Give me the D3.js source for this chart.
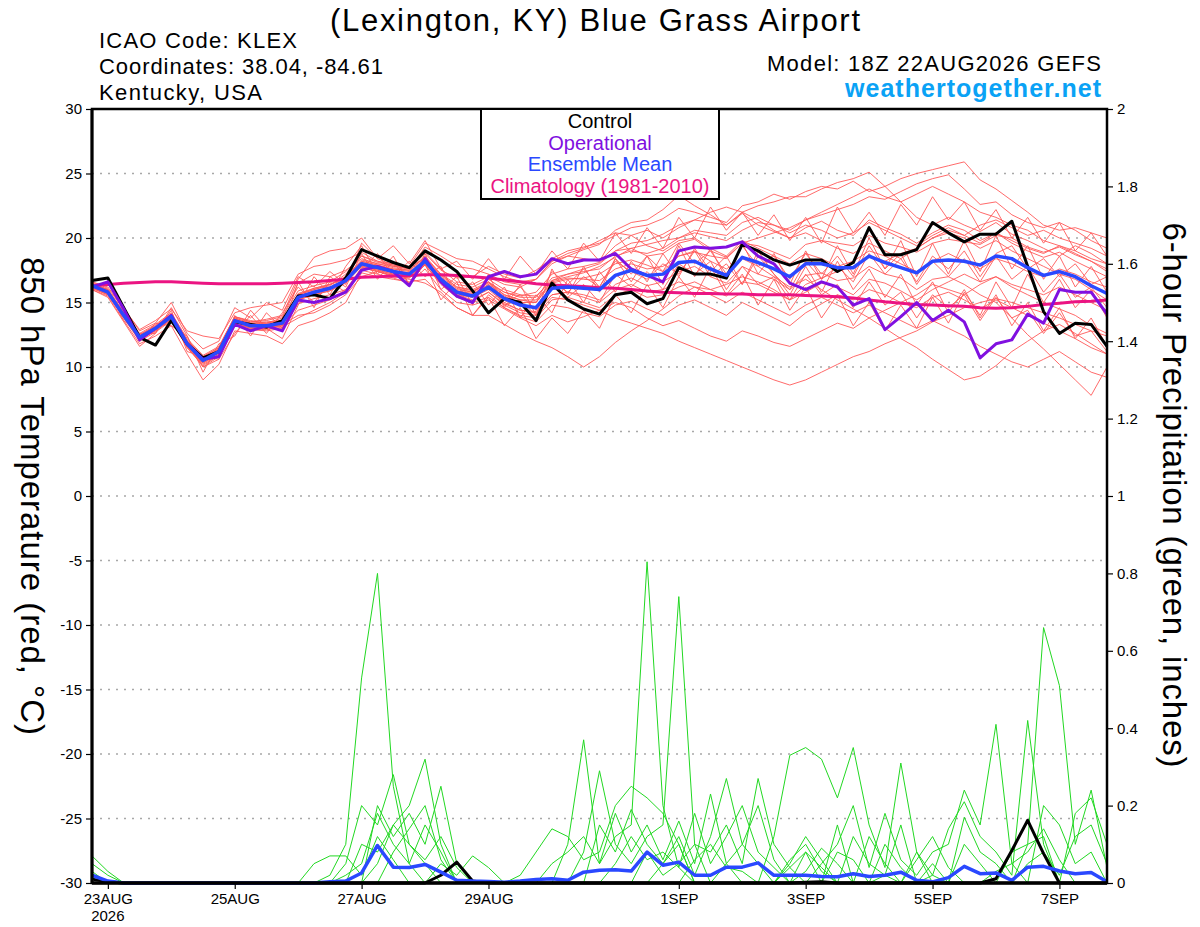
<!DOCTYPE html>
<html><head><meta charset="utf-8">
<script src="https://cdn.jsdelivr.net/npm/d3@7"></script>
<style>
html,body{margin:0;padding:0;background:#fff;}
svg{display:block;font-family:"Liberation Sans",Arial,Helvetica,sans-serif;}
</style></head><body>
<svg id="chart" width="1200" height="927"></svg>
<script>
// ---------------- DATA ----------------
const runStart = "2026-08-22T18:00:00Z";   // 18Z 22AUG2026, 6-hourly, 65 steps
const stepHours = 6;
const tickDates  = ["2026-08-23T00:00:00Z","2026-08-25T00:00:00Z","2026-08-27T00:00:00Z","2026-08-29T00:00:00Z","2026-09-01T00:00:00Z","2026-09-03T00:00:00Z","2026-09-05T00:00:00Z","2026-09-07T00:00:00Z"];
const tickLabels = ["23AUG","25AUG","27AUG","29AUG","1SEP","3SEP","5SEP","7SEP"];
const tempTicks   = [-30,-25,-20,-15,-10,-5,0,5,10,15,20,25,30];
const precipTicks = [0,0.2,0.4,0.6,0.8,1,1.2,1.4,1.6,1.8,2];
const legendLabels = ["Control","Operational","Ensemble Mean","Climatology (1981-2010)"];

const controlTemp = [16.7,16.9,14.6,12.3,11.7, 13.6,11.8,10.7,11.2,13.5, 13.3,13.1,13.6,15.5,15.6, 15.3,16.9,19.1,18.6,18.1, 17.7,19.0,18.3,17.4,15.9, 14.2,15.3,15.0,13.6,16.5, 15.2,14.5,14.1,15.6,15.8, 14.9,15.3,17.7,17.2,17.2, 16.9,19.5,19.0,18.3,17.9, 18.3,18.3,17.4,18.1,20.8, 18.7,18.7,19.1,21.2,20.4, 19.7,20.3,20.3,21.3,17.8, 14.3,12.6,13.4,13.3,11.6];
const operationalTemp = [16.2,16.6,14.5,12.1,13.0, 14.0,11.8,10.6,10.8,13.3, 12.8,13.2,12.8,15.2,15.0, 15.3,15.8,17.5,17.8,17.4, 16.3,18.4,16.6,15.5,15.0, 17.0,17.4,17.0,17.2,18.4, 18.0,18.3,18.3,18.8,17.6, 17.1,16.6,19.0,19.3,19.2, 19.3,19.7,18.6,18.0,16.5, 16.0,16.6,16.2,14.8,15.3, 12.9,13.9,15.0,13.6,14.4, 13.5,10.7,11.8,12.1,14.1, 13.4,16.0,15.8,15.8,14.1];
const meanTemp = [16.3,15.8,14.0,12.3,13.0, 13.9,11.8,10.5,11.2,13.6, 13.2,13.2,13.4,15.4,15.8, 16.1,16.7,18.0,17.7,17.4, 17.2,18.2,16.8,15.8,15.5, 16.2,15.3,14.8,14.6,16.1, 16.2,16.1,16.0,17.1,17.5, 17.1,17.2,18.1,18.2,17.6, 17.1,18.5,18.1,17.6,17.0, 18.0,18.0,17.7,17.7,18.6, 18.1,17.7,17.3,18.2,18.3, 18.2,17.9,18.6,18.4,17.7, 17.1,17.4,17.0,16.3,15.7];
const climoTemp = [16.3,16.4,16.5,16.55,16.6, 16.6,16.55,16.5,16.45,16.45, 16.45,16.45,16.5,16.55,16.6, 16.7,16.8,16.95,17.0,17.05, 17.1,17.15,17.15,17.1,17.0, 16.9,16.75,16.6,16.45,16.35, 16.3,16.25,16.15,16.1,16.0, 15.9,15.8,15.75,15.7,15.7, 15.65,15.65,15.6,15.6,15.6, 15.55,15.5,15.45,15.35,15.2, 15.05,14.95,14.85,14.8,14.75, 14.7,14.6,14.55,14.6,14.7, 14.85,14.95,15.05,15.1,15.2];

const memberTemps = [
 [16.4,15.9,14.2,12.5,13.2, 14.1,12.0,10.8,11.5,13.9, 13.5,13.6,13.9,15.9,16.3, 16.6,17.4,18.6,18.1,17.9, 17.6,18.8,17.5,16.9,17.0, 17.8,17.2,16.9,17.5,18.4, 19.0,19.3,19.6,20.2,20.8, 21.0,21.5,22.3,22.0,21.6, 21.2,22.5,22.8,23.4,23.0, 23.6,24.0,23.8,24.4,23.6, 24.0,24.6,25.0,25.3,25.6, 25.9,24.5,23.8,22.9,22.0, 21.0,20.6,20.8,20.4,20.0],
 [16.2,15.7,13.8,12.0,12.7, 13.6,11.5,10.2,10.9,13.2, 12.9,12.8,13.0,14.9,15.3, 15.6,16.0,17.5,17.2,16.9, 16.5,17.6,16.0,15.0,14.8, 15.2,14.5,13.8,13.2,14.0, 13.5,13.9,14.4,13.8,13.4, 13.0,12.6,12.0,11.5,11.0, 10.5,10.0,9.5,9.0,8.6, 9.0,9.6,10.2,10.8,11.2, 11.8,12.3,12.8,13.5,14.0, 14.6,15.0,15.3,15.0,14.6, 14.2,13.8,13.3,12.8,12.4],
 [16.1,15.6,13.9,12.2,12.8, 13.7,11.6,10.0,10.8,13.4, 13.0,13.1,13.3,14.0,14.2, 14.8,15.6,17.0,17.4,17.0, 16.8,16.5,15.8,14.6,14.0, 14.0,13.3,12.6,12.0,11.5, 10.8,10.0,10.8,11.9,12.8, 13.6,14.5,15.5,16.2,16.0, 16.4,17.0,16.6,16.0,15.2, 15.8,16.5,16.2,15.6,16.8, 16.5,15.9,15.2,16.0,16.6, 17.2,16.6,17.0,16.2,15.6, 15.0,14.5,14.0,13.2,12.6],
 [16.5,16.0,14.3,12.6,13.3, 14.2,12.2,10.9,11.6,13.9, 13.6,13.4,13.8,16.5,17.2, 17.0,17.5,18.4,18.0,17.8, 17.7,18.9,17.6,16.6,16.4, 17.0,16.4,16.2,16.8,18.0, 18.6,19.1,19.5,20.6,21.2, 21.4,22.2,23.3,22.5,21.8, 21.0,21.9,21.0,20.5,20.0, 20.8,21.3,20.6,20.2,21.4, 20.8,20.3,19.6,20.4,21.0, 20.6,19.8,20.4,19.6,19.0, 18.5,18.9,18.2,17.6,17.0],
 [16.3,15.8,14.1,12.4,13.1, 13.9,11.8,10.5,11.1,13.5, 13.1,13.2,13.3,15.3,15.7, 16.0,16.8,17.9,17.6,17.3, 17.2,18.1,16.6,15.6,15.4, 16.0,15.0,14.4,14.3,15.6, 15.8,15.6,15.2,16.4,16.9, 16.3,16.6,17.4,17.8,17.0, 16.5,17.8,17.2,16.8,16.0, 17.1,17.3,16.7,16.9,17.8, 17.2,16.9,16.0,16.8,17.0, 16.4,15.6,15.0,13.8,12.5, 11.4,10.2,9.0,7.8,10.0],
 [16.2,15.8,14.0,12.3,12.9, 13.8,11.7,10.4,11.3,13.7, 13.3,13.0,13.5,15.5,15.9, 16.2,16.6,17.8,17.5,17.2, 17.0,18.0,16.9,16.0,15.8, 16.6,15.6,15.2,15.0,16.5, 16.8,16.9,17.2,18.0,18.3, 17.9,17.4,18.6,19.0,18.2, 17.6,18.4,17.8,17.0,16.2, 16.8,16.0,15.2,14.5,13.8, 13.0,12.2,11.5,10.6,9.8, 9.0,9.3,10.1,11.2,12.0, 12.8,13.3,12.6,11.8,11.0],
 [16.4,15.9,14.0,12.3,13.0, 14.0,11.9,10.6,11.3,13.7, 13.3,13.3,13.6,15.6,16.1, 16.4,17.0,18.2,17.9,17.6, 17.5,18.5,17.1,16.2,15.9, 16.5,15.8,15.5,15.8,17.2, 17.6,17.8,18.1,19.0,19.2, 18.6,18.8,19.6,19.9,19.0, 18.5,19.6,19.4,18.9,18.4, 19.5,19.8,19.6,19.4,20.2, 19.6,19.3,18.9,19.6,19.9, 19.7,19.5,20.2,20.0,19.3, 18.9,19.3,18.7,18.2,17.6],
 [16.0,15.5,13.6,11.8,12.4, 13.2,11.0,9.0,10.2,12.8, 12.6,12.4,11.8,13.2,13.6, 14.2,15.0,17.3,17.0,16.8, 16.6,16.8,15.6,14.6,14.0, 15.6,14.6,14.0,13.8,15.2, 15.4,15.0,14.6,15.6,16.0, 15.4,15.6,16.2,16.6,16.0, 15.5,16.6,16.4,15.8,15.2, 16.4,16.9,17.4,17.8,18.6, 18.2,18.8,19.2,20.0,20.4, 20.0,19.2,19.8,19.0,18.4, 17.8,17.2,16.8,16.0,15.2],
 [16.6,16.1,14.5,12.9,13.6, 14.5,12.8,12.4,12.2,14.2, 14.6,14.8,15.0,17.2,17.8, 18.0,18.3,18.9,18.2,18.0, 17.8,18.4,17.2,16.4,16.2, 16.8,16.0,15.6,15.5,16.7, 17.0,17.3,17.8,18.5,19.2, 19.5,19.8,20.0,20.4,20.1, 19.8,20.6,21.2,21.0,20.6, 21.4,22.0,22.6,23.2,23.8, 23.2,22.8,23.4,24.0,23.4, 22.8,22.0,21.6,21.0,20.6, 19.8,19.4,19.0,18.4,18.0],
 [16.3,15.7,13.9,12.2,13.0, 13.8,11.6,10.3,11.0,13.5, 13.0,13.1,13.2,15.2,15.7, 16.0,16.9,18.2,17.9,17.5, 17.1,18.3,16.9,15.9,15.6, 16.3,15.5,15.0,15.0,16.7, 17.2,17.6,18.0,19.0,19.6, 19.8,20.3,21.0,21.4,21.2, 21.0,22.0,22.5,22.8,23.2, 23.2,23.8,24.3,24.6,25.1, 24.0,22.8,21.6,21.0,21.6, 21.0,20.5,21.2,20.3,19.8, 19.2,18.6,19.4,18.8,18.0],
 [16.2,15.7,13.9,12.2,12.9, 13.8,11.6,10.4,11.1,13.5, 13.1,13.0,13.2,14.4,14.8, 15.2,16.0,17.7,17.4,17.1, 16.9,17.9,16.4,15.4,15.0, 15.4,14.6,13.9,13.5,14.8, 14.6,14.2,13.9,14.8,15.1, 14.5,14.0,14.8,15.2,14.6, 14.0,15.0,14.4,13.8,13.2, 14.2,14.9,15.6,15.2,16.0, 15.6,15.0,14.6,15.4,15.8, 15.2,14.5,15.2,14.6,14.0, 13.4,12.8,12.2,11.5,11.0],
 [16.4,16.0,14.2,12.4,13.1, 14.0,12.0,10.7,11.4,13.8, 13.4,13.5,13.6,15.6,16.0, 16.4,16.8,18.0,17.8,17.6, 17.4,18.4,17.0,16.1,15.8, 16.6,15.2,16.2,15.0,17.4, 16.4,17.6,16.2,18.4,17.2, 18.6,17.4,19.6,18.0,19.0, 17.2,19.4,17.8,18.6,16.8, 18.8,17.2,18.6,17.0,19.4, 17.6,18.8,16.4,18.2,17.0, 18.4,16.6,18.6,16.8,17.8, 15.8,17.2,15.4,16.2,14.6],
 [16.2,15.8,13.9,12.2,12.9, 13.9,11.7,10.4,11.2,13.5, 13.2,13.1,13.3,15.2,15.6, 15.9,16.5,17.8,17.5,17.2, 17.0,18.0,16.6,15.6,15.2, 15.8,14.8,14.2,14.0,15.4, 15.2,14.8,14.4,15.0,14.6, 13.8,13.2,13.6,13.0,12.4, 12.0,12.8,12.4,11.9,11.6, 12.2,12.8,13.4,13.0,13.8, 14.4,15.0,15.6,16.4,16.0, 15.6,16.4,17.0,16.4,16.0, 15.6,16.2,15.6,15.0,14.4],
 [16.5,16.0,14.1,12.5,13.2, 14.1,12.1,10.8,11.5,13.9, 13.5,13.7,14.0,16.8,18.5, 19.0,19.2,20.0,18.4,17.9, 17.8,19.6,19.0,18.4,18.2, 17.6,17.0,16.6,16.8,18.2, 18.6,18.4,18.2,19.4,20.2, 20.6,20.0,20.8,21.4,22.0, 22.4,22.0,21.4,20.6,20.0, 20.4,19.8,19.2,18.8,19.6, 19.0,18.4,19.2,20.0,20.6, 20.2,21.0,21.4,20.8,20.2, 20.6,20.0,19.6,19.2,18.6],
 [16.3,15.9,14.0,12.4,13.0, 13.9,11.9,10.6,11.2,13.6, 13.2,13.3,13.5,15.4,15.8, 16.2,16.7,18.1,17.8,17.5, 17.3,18.3,16.9,15.9,15.7, 16.4,15.6,15.2,15.2,16.6, 16.9,16.8,16.7,17.6,18.0, 17.6,17.8,18.6,18.9,18.6, 18.4,19.6,20.0,20.4,20.8, 21.4,21.8,22.2,22.6,23.2, 23.0,23.6,24.2,24.6,24.9, 23.8,22.6,22.8,21.8,21.2, 20.8,21.2,20.6,19.8,19.2],
 [16.1,15.6,13.8,12.1,12.8, 13.7,11.5,10.1,10.9,13.3, 12.9,12.9,13.1,13.8,14.4, 15.0,15.8,17.7,17.4,17.1, 16.9,17.9,16.5,15.5,15.1, 15.8,14.9,14.4,14.2,15.6, 15.8,15.4,15.0,16.0,16.4, 15.8,16.0,16.6,16.2,15.6, 15.0,15.8,15.2,14.6,14.0, 14.8,15.4,14.8,14.2,14.8, 14.2,13.6,13.0,13.6,13.0, 12.4,11.6,11.0,10.4,10.0, 10.6,11.2,10.4,9.6,9.2],
 [16.3,15.8,14.0,12.3,13.0, 13.9,11.8,10.5,11.2,13.6, 13.2,13.2,13.4,15.4,15.8, 16.1,16.7,18.0,17.7,17.4, 17.2,18.2,16.8,15.8,15.5, 16.2,15.0,15.6,14.4,16.6, 15.8,17.0,16.2,18.2,17.4, 16.8,18.0,17.2,19.0,17.0, 18.0,16.4,18.6,17.2,16.0, 18.2,16.8,17.8,16.6,18.8, 17.2,18.4,16.6,18.6,17.6, 19.0,17.0,18.8,19.4,17.6, 18.4,17.0,18.0,16.4,17.0],
 [16.4,15.9,14.1,12.4,13.1, 14.0,11.9,10.6,11.3,13.7, 13.3,13.4,13.6,15.6,16.0, 16.3,17.2,18.6,18.2,17.8, 17.6,19.3,18.6,17.8,17.6, 17.2,16.6,16.4,16.8,18.2, 18.8,19.2,19.8,20.4,20.2, 19.4,19.0,19.8,20.0,19.2, 18.6,19.8,19.2,18.6,18.0, 18.8,18.4,17.8,18.2,19.0, 18.6,18.0,17.4,18.2,18.8, 18.2,17.6,18.4,18.0,17.4, 17.0,17.6,17.2,16.6,16.2],
 [16.2,15.7,13.9,12.2,12.8, 13.7,11.6,10.3,11.0,13.4, 13.0,13.0,13.2,15.2,15.6, 15.9,16.6,17.9,17.6,17.3, 17.1,18.1,16.7,15.7,15.4, 16.4,14.8,15.2,14.0,16.4, 15.4,16.4,15.0,17.2,16.2, 17.4,16.0,18.0,17.2,18.2, 16.0,17.8,16.4,17.0,15.2, 17.2,15.6,16.4,14.6,16.6, 14.8,15.8,13.8,15.6,14.6, 15.6,13.6,15.4,13.8,14.4, 12.6,14.2,12.4,12.8,11.2],
 [16.4,15.9,14.1,12.4,13.1, 14.0,12.0,10.7,11.4,13.8, 13.4,13.4,13.6,15.7,16.1, 16.4,17.0,18.3,18.0,17.7, 17.5,18.6,17.2,16.2,16.0, 16.6,15.8,15.4,15.4,16.9, 17.2,17.4,17.6,18.6,19.0, 18.8,19.2,20.0,20.6,20.4, 20.2,21.2,21.6,21.0,20.4, 21.0,20.6,20.0,20.4,21.2, 20.6,20.0,19.4,20.2,20.8, 20.2,19.6,20.4,19.8,19.2, 18.8,19.4,18.8,18.2,17.4],
 [16.0,15.4,13.5,11.6,12.6, 14.6,12.4,10.0,10.6,12.6, 14.0,12.6,14.2,16.2,15.0, 16.6,15.8,17.6,18.8,17.0, 18.2,17.0,17.8,15.4,16.6, 14.8,16.2,13.8,15.6,14.2, 16.8,15.0,17.4,15.8,18.2, 16.6,18.8,17.0,19.2,17.4, 18.6,16.4,19.0,17.2,15.6, 17.8,15.8,18.2,16.0,17.6, 15.4,17.2,14.8,16.6,14.2, 16.0,13.8,15.6,13.2,15.0, 12.8,14.6,12.2,13.8,11.6],
 [16.6,16.2,14.6,12.8,13.4, 15.0,12.6,11.4,12.0,14.6, 13.8,15.0,14.4,17.0,16.2, 17.4,16.4,19.6,18.4,19.4, 18.0,19.8,17.6,18.2,16.8, 18.4,16.8,18.6,17.2,19.0, 17.6,19.6,18.2,20.4,18.8, 20.8,19.2,21.6,20.0,22.4, 20.6,22.0,20.2,21.8,19.8, 21.6,19.6,22.4,20.4,22.0, 20.2,22.6,21.0,23.2,21.4, 22.8,20.6,22.2,20.0,21.6, 19.6,21.2,19.0,20.4,18.6],
 [16.2,15.6,14.4,12.0,13.4, 13.2,12.4,9.6,11.8,12.4, 14.4,13.0,12.2,14.8,17.0, 15.6,17.8,19.4,17.2,18.6, 16.4,18.0,15.2,16.6,14.0, 15.4,13.2,14.6,12.2,13.8, 12.6,14.4,13.0,15.6,14.2, 16.4,14.6,17.0,15.4,17.8, 15.6,17.2,14.8,16.8,14.4, 16.2,13.8,15.6,13.2,15.0, 12.8,14.8,13.0,15.4,13.4, 15.8,14.0,16.6,14.6,17.2, 15.0,16.8,14.6,16.0,13.8],
 [16.4,16.0,13.6,12.6,12.6, 14.4,11.2,10.8,10.6,14.0, 12.4,14.2,13.0,16.6,14.6, 17.0,16.2,18.8,16.8,18.2, 16.4,18.8,16.0,17.0,14.8, 17.2,14.6,16.4,14.0,17.6, 15.6,17.8,15.8,18.4,16.6, 18.6,16.4,19.4,17.0,19.2, 16.8,19.6,17.2,18.8,16.4, 19.0,16.8,19.4,17.2,20.0, 17.6,19.8,17.0,19.6,17.2, 19.8,17.4,20.2,17.6,19.4, 16.8,18.6,16.2,17.8,15.8]
];

const meanPrecip = [.02,.005,0,0,0, 0,0,0,0,0, 0,0,0,0,0, .003,.005,.026,.097,.041, .04,.048,.028,.007,.005, .004,.002,.005,.009,.011, .007,.028,.033,.034,.031, .08,.046,.054,.02,.02, .041,.041,.052,.02,.02, .02,.017,.016,.024,.017, .02,.028,.007,.003,.014, .043,.024,.026,.007,.041, .043,.031,.024,.027,.003];
const controlPrecip = [.01,.003,0,0,0, 0,0,0,0,0, 0,0,0,0,0, 0,0,0,0,0, 0,0,.02,.054,.005, 0,0,0,0,0, 0,0,0,0,0, 0,0,0,0,0, 0,0,0,0,0, .002,.003,0,0,0, 0,0,0,0,0, 0,0,.011,.084,.162, .076,0,0,0,0];

const memberPrecip = [
 [.05,.02,0,0,0, 0,0,0,0,0, 0,0,0,0,0, .02,.1,.53,.8,.25, .05,0,0,0,0, 0,0,0,0,0, 0,0,0,0,0, 0,0,0,0,0, 0,0,0,0,0, 0,0,0,0,0, 0,0,0,0,0, 0,0,0,0,.05, .08,.02,.12,.15,.05],
 [.07,.03,0,0,0, 0,0,0,0,0, 0,0,0,0,0, 0,.05,.2,.15,.28, .1,.05,0,0,0, 0,0,0,0,0, 0,0,0,0,0, 0,0,0,0,0, 0,0,0,0,0, .03,.09,.05,0,0, 0,0,0,0,0, 0,0,0,0,0, .2,.15,.05,.08,0],
 [0,0,0,0,0, 0,0,0,0,0, 0,0,0,0,0, 0,0,.1,.08,.15, .2,.32,.1,0,0, 0,0,0,0,0, 0,0,0,0,0, 0,0,0,0,0, 0,0,0,0,0, 0,0,0,0,0, 0,0,.06,.12,.04, 0,0,0,0,0, 0,0,.18,.22,.1],
 [0,0,0,0,0, 0,0,0,0,0, 0,0,0,0,0, 0,0,0,.2,.12, .18,.1,.25,.05,0, 0,0,0,0,0, 0,0,0,0,0, 0,0,0,0,0, .05,.1,.2,.06,0, .08,.04,0,0,0, 0,0,0,0,0, 0,0,0,0,0, 0,0,0,0,0],
 [.03,0,0,0,0, 0,0,0,0,0, 0,0,0,0,0, 0,.02,.05,.18,.1, .05,.15,.08,0,0, 0,0,0,0,0, 0,0,0,0,0, 0,0,0,0,0, 0,0,0,0,0, 0,0,0,0,0, 0,0,0,0,0, 0,0,.03,.05,.08, .14,.06,0,0,0],
 [0,0,0,0,0, 0,0,0,0,0, 0,0,0,0,.05, .07,.07,.02,.12,.06, 0,0,0,0,0, 0,0,0,0,0, 0,0,0,0,0, 0,0,0,0,0, 0,0,0,0,.06, .1,.03,0,.12,.05, .02,0,0,0,0, 0,0,0,0,0, 0,0,0,0,0],
 [0,0,0,0,0, 0,0,0,0,0, 0,0,0,0,0, 0,0,0,.05,.15, .1,.06,.12,.04,0, 0,0,0,0,0, 0,0,0,0,0, 0,0,0,0,0, 0,0,0,0,0, 0,0,0,0,0, 0,0,0,0,0, .1,.05,0,.08,.1, .12,0,0,0,0],
 [.02,0,0,0,0, 0,0,0,0,0, 0,0,0,0,0, 0,0,0,0,.08, .14,.2,.06,0,0, 0,0,0,0,0, 0,0,0,0,0, 0,0,0,.06,.1, .04,.03,0,0,0, 0,0,.08,.06,0, .1,.04,0,0,0, 0,0,0,0,0, 0,0,0,0,0],
 [0,0,0,0,0, 0,0,0,0,0, 0,0,0,0,0, 0,0,0,0,0, 0,0,.05,.02,.07, .04,0,0,0,0, 0,0,0,0,0, 0,.05,.1,0,0, 0,0,0,0,.05, .12,.06,0,0,0, 0,0,.08,.02,0, 0,0,0,0,0, 0,0,0,0,0],
 [0,0,0,0,0, 0,0,0,0,0, 0,0,0,0,0, 0,0,0,0,0, 0,0,0,0,0, 0,0,.02,.08,.14, .12,.06,.08,.2,.25, .22,.18,.1,0,0, 0,0,0,0,0, 0,0,0,0,0, 0,0,0,0,0, 0,0,0,0,0, 0,0,0,0,0],
 [0,0,0,0,0, 0,0,0,0,0, 0,0,0,0,0, 0,0,0,0,0, 0,0,0,0,0, 0,0,0,0,0, .1,.37,.05,.12,.15, .83,.2,.04,0,0, 0,0,0,0,0, 0,0,0,0,0, 0,0,0,0,0, 0,0,0,0,0, 0,0,0,0,0],
 [0,0,0,0,0, 0,0,0,0,0, 0,0,0,0,0, 0,0,0,0,0, 0,0,0,0,0, 0,0,0,0,0, 0,.08,.29,.1,.05, .12,.15,.74,.1,0, 0,0,0,0,0, 0,0,0,0,0, 0,0,0,0,0, 0,0,0,0,0, 0,0,0,0,0],
 [0,0,0,0,0, 0,0,0,0,0, 0,0,0,0,0, 0,0,0,0,0, 0,0,0,0,0, 0,0,0,0,.05, .08,.12,.05,.18,.08, .15,.06,.16,.05,.23, .05,0,0,0,0, 0,0,0,0,0, 0,0,0,0,0, 0,0,0,0,0, 0,0,0,0,0],
 [0,0,0,0,0, 0,0,0,0,0, 0,0,0,0,0, 0,0,0,0,0, 0,0,0,0,0, 0,0,0,0,0, 0,0,.15,.08,.19, .1,.05,.12,.02,.12, .27,.1,.05,0,0, 0,0,0,0,0, 0,0,0,0,0, 0,0,0,0,0, 0,0,0,0,0],
 [0,0,0,0,0, 0,0,0,0,0, 0,0,0,0,0, 0,0,0,0,0, 0,0,0,0,0, 0,0,0,0,0, 0,0,0,.05,.12, .06,.08,.04,.18,.05, .12,.2,.08,.04,0, 0,0,0,0,0, 0,0,0,0,0, 0,0,0,0,0, 0,0,0,0,0],
 [0,0,0,0,0, 0,0,0,0,0, 0,0,0,0,0, 0,0,0,0,0, 0,0,0,0,0, 0,0,0,0,0, 0,0,0,0,0, .08,.02,.05,.1,.08, .15,.05,.27,.1,.04, 0,0,0,0,0, 0,0,0,0,0, 0,0,0,0,0, 0,0,0,0,0],
 [0,0,0,0,0, 0,0,0,0,0, 0,0,0,0,0, 0,0,0,0,0, 0,0,0,0,0, 0,0,0,0,0, 0,0,0,0,0, 0,0,0,0,0, 0,0,0,.12,.33, .35,.32,.22,.35,.15, .04,.31,.08,0,0, 0,0,0,0,0, 0,0,0,0,0],
 [0,0,0,0,0, 0,0,0,0,0, 0,0,0,0,0, 0,0,0,0,0, 0,0,0,0,0, 0,0,0,0,0, 0,0,0,0,0, 0,0,0,0,0, 0,0,0,0,0, 0,.05,.1,.2,.04, .18,.06,.02,.08,.1, .24,.15,.41,.05,0, 0,0,0,0,0],
 [0,0,0,0,0, 0,0,0,0,0, 0,0,0,0,0, 0,0,0,0,0, 0,0,0,0,0, 0,0,0,0,0, 0,0,0,0,0, 0,0,0,0,0, 0,0,0,0,.04, .08,0,.15,0,.12, .05,0,0,.02,.14, .21,.12,.08,.02,.42, .1,0,0,0,0],
 [0,0,0,0,0, 0,0,0,0,0, 0,0,0,0,0, 0,0,0,0,0, 0,0,0,0,0, 0,0,0,0,0, 0,0,0,0,0, 0,0,0,0,0, 0,0,0,0,0, 0,0,0,0,0, .02,.15,0,.05,0, .17,.08,.05,0,.1, .66,.51,.1,.24,.04]
];

// ---------------- CHART ----------------
const C = {
  member: "#ff5a5a", precip: "#22d822", control: "#000000",
  oper: "#8010e0", mean: "#2a48ff", climo: "#eb1482", grid: "#a8a8a8", site: "#0aa2f5"
};
const P = {left: 92, right: 1107, top: 109, bottom: 883};

const t0 = new Date(runStart).getTime();
const times = memberTemps[0].map((_, i) => new Date(t0 + i * stepHours * 3600e3));

const svg = d3.select("#chart");
const x  = d3.scaleUtc().domain([times[0], times[times.length - 1]]).range([P.left, P.right]);
const yT = d3.scaleLinear().domain([-30, 30]).range([P.bottom, P.top]);
const yP = d3.scaleLinear().domain([0, 2]).range([P.bottom, P.top]);

const lineT = d3.line().x((d, i) => x(times[i])).y(d => yT(d));
const lineP = d3.line().x((d, i) => x(times[i])).y(d => yP(d));

// grid
svg.append("g").selectAll("line")
  .data(tempTicks.filter(v => v > -30 && v < 30)).join("line")
  .attr("x1", P.left).attr("x2", P.right)
  .attr("y1", d => yT(d)).attr("y2", d => yT(d))
  .attr("stroke", C.grid).attr("stroke-width", 1.5).attr("stroke-dasharray", "2,6");

const plot = svg.append("g");
plot.append("g").selectAll("path").data(memberPrecip).join("path")
  .attr("d", lineP).attr("fill", "none").attr("stroke", C.precip).attr("stroke-width", 1);
plot.append("g").selectAll("path").data(memberTemps).join("path")
  .attr("d", lineT).attr("fill", "none").attr("stroke", C.member).attr("stroke-width", 1).attr("stroke-opacity", 0.9);
plot.append("path").datum(controlPrecip).attr("d", lineP).attr("fill", "none")
  .attr("stroke", C.control).attr("stroke-width", 3).attr("stroke-linejoin", "round");
plot.append("path").datum(meanPrecip).attr("d", lineP).attr("fill", "none")
  .attr("stroke", C.mean).attr("stroke-width", 3.5).attr("stroke-linejoin", "round");
plot.append("path").datum(climoTemp).attr("d", lineT).attr("fill", "none")
  .attr("stroke", C.climo).attr("stroke-width", 3);
plot.append("path").datum(controlTemp).attr("d", lineT).attr("fill", "none")
  .attr("stroke", C.control).attr("stroke-width", 3).attr("stroke-linejoin", "round");
plot.append("path").datum(operationalTemp).attr("d", lineT).attr("fill", "none")
  .attr("stroke", C.oper).attr("stroke-width", 3).attr("stroke-linejoin", "round");
plot.append("path").datum(meanTemp).attr("d", lineT).attr("fill", "none")
  .attr("stroke", C.mean).attr("stroke-width", 3.5).attr("stroke-linejoin", "round");

// frame
svg.append("rect").attr("x", P.left).attr("y", P.top)
  .attr("width", P.right - P.left).attr("height", P.bottom - P.top)
  .attr("fill", "none").attr("stroke", "#000").attr("stroke-width", 2.5);
svg.append("line").attr("x1", P.left).attr("x2", P.right).attr("y1", P.bottom).attr("y2", P.bottom)
  .attr("stroke", "#000").attr("stroke-width", 3.5);
svg.append("line").attr("x1", P.left).attr("x2", P.left).attr("y1", P.top).attr("y2", P.bottom)
  .attr("stroke", "#000").attr("stroke-width", 3);

// axes
function styleAxis(g, size) {
  g.select(".domain").remove();
  g.selectAll("text").attr("font-size", size).attr("fill", "#000")
    .attr("font-family", '"Liberation Sans", Arial, sans-serif');
  g.selectAll("line").attr("stroke", "#000").attr("stroke-width", 1.2);
}
svg.append("g").attr("transform", `translate(${P.left - 1},0)`)
  .call(d3.axisLeft(yT).tickValues(tempTicks).tickSize(5).tickPadding(4).tickFormat(d => String(d)))
  .call(g => styleAxis(g, 15));
svg.append("g").attr("transform", `translate(${P.right + 1},0)`)
  .call(d3.axisRight(yP).tickValues(precipTicks).tickSize(5).tickPadding(4).tickFormat(d => String(d)))
  .call(g => styleAxis(g, 15));
svg.append("g").attr("transform", `translate(0,${P.bottom + 1})`)
  .call(d3.axisBottom(x).tickValues(tickDates.map(d => new Date(d))).tickSize(5).tickPadding(4)
    .tickFormat((d, i) => tickLabels[i]))
  .call(g => styleAxis(g, 15));
svg.append("text").attr("x", x(new Date(tickDates[0]))).attr("y", 921)
  .attr("text-anchor", "middle").attr("font-size", 15).text(runStart.slice(0, 4));

// axis titles
svg.append("text").attr("transform", "translate(21,496) rotate(90)")
  .attr("text-anchor", "middle").attr("font-size", 33)
  .attr("textLength", 478).attr("lengthAdjust", "spacing")
  .text("850 hPa Temperature (red, \u00B0C)");
svg.append("text").attr("transform", "translate(1163,495) rotate(90)")
  .attr("text-anchor", "middle").attr("font-size", 33)
  .attr("textLength", 545).attr("lengthAdjust", "spacing")
  .text("6-hour Precipitation (green, inches)");

// header texts
function txt(xp, yp, s, size, anchor, len, extra) {
  const t = svg.append("text").attr("x", xp).attr("y", yp).attr("font-size", size)
    .attr("text-anchor", anchor).text(s);
  if (len) t.attr("textLength", len).attr("lengthAdjust", "spacing");
  if (extra) extra(t);
  return t;
}
txt(595, 31, "(Lexington, KY) Blue Grass Airport", 31, "middle", 530);
txt(99, 48, "ICAO Code: KLEX", 22, "start", 198);
txt(99, 74, "Coordinates: 38.04, -84.61", 22, "start", 284);
txt(99, 100, "Kentucky, USA", 22, "start", 163);
txt(1101, 71, "Model: 18Z 22AUG2026 GEFS", 22, "end", 334);
txt(1101, 97, "weathertogether.net", 25, "end", 256, t => t.attr("font-weight", "bold").attr("fill", C.site));

// legend
const lg = svg.append("g");
lg.append("rect").attr("x", 481).attr("y", P.top).attr("width", 238).attr("height", 90)
  .attr("fill", "#fff").attr("stroke", "#000").attr("stroke-width", 2);
const legColors = [C.control, C.oper, C.mean, C.climo];
lg.selectAll("text.leg").data(legendLabels).join("text").attr("class", "leg")
  .attr("x", 600).attr("y", (d, i) => 128 + i * 21.6)
  .attr("text-anchor", "middle").attr("font-size", 20)
  .attr("fill", (d, i) => legColors[i]).text(d => d);
</script></body></html>
